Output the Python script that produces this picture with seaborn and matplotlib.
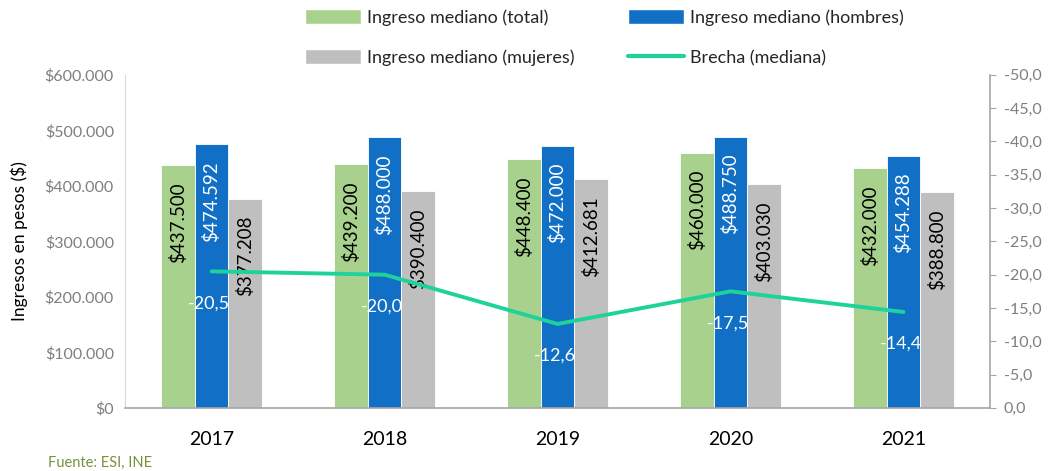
import numpy as np
import pandas as pd
import matplotlib
matplotlib.use('Agg')
import matplotlib.pyplot as plt
import seaborn as sns
from matplotlib.patches import Patch
from matplotlib.lines import Line2D

years = ['2017', '2018', '2019', '2020', '2021']
series = ['Ingreso mediano (total)', 'Ingreso mediano (hombres)', 'Ingreso mediano (mujeres)']
total = [437500, 439200, 448400, 460000, 432000]
hombres = [474592, 488000, 472000, 488750, 454288]
mujeres = [377208, 390400, 412681, 403030, 388800]
brecha = [-20.5, -20.0, -12.6, -17.5, -14.4]
brecha_name = 'Brecha (mediana)'
colors = ['#a9d18e', '#1170c6', '#bfbfbf']
line_color = '#1ed39b'
label_colors = ['black', 'white', 'black']

sns.set_style('white')
plt.rcParams['font.family'] = ['Lato', 'DejaVu Sans']

df = pd.DataFrame({
    'year': years * 3,
    'serie': [series[0]] * 5 + [series[1]] * 5 + [series[2]] * 5,
    'valor': total + hombres + mujeres,
})

fig = plt.figure(figsize=(10.51, 4.71), dpi=100)
ax = fig.add_axes([0.119, 0.134, 0.823, 0.707])

sns.barplot(data=df, x='year', y='valor', hue='serie', palette=colors, saturation=1,
            width=0.58, gap=0, edgecolor='white', linewidth=0.6, ax=ax, legend=False)

def fmt_money(v):
    return '$' + f'{v:,.0f}'.replace(',', '.')

for cont, col in zip(ax.containers, label_colors):
    for p in cont.patches:
        ax.annotate(fmt_money(p.get_height()), (p.get_x() + p.get_width() / 2, p.get_height()),
                    xytext=(0, -17), textcoords='offset pixels', rotation=90,
                    ha='center', va='top', fontsize=13.5, color=col)

ax.set_ylim(0, 600000)
ax.set_yticks(np.arange(0, 600001, 100000))
ax.set_yticklabels([fmt_money(v) for v in range(0, 600001, 100000)], color='#7f7f7f', fontsize=11.5)
ax.set_xlim(-0.5, 4.5)
ax.set_xlabel('')
ax.set_ylabel('Ingresos en pesos ($)', fontsize=12.5, color='black', labelpad=12)
ax.tick_params(axis='x', labelsize=14, length=0, pad=17, colors='black')
ax.tick_params(axis='y', length=0, pad=8)
for s in ['top', 'right']:
    ax.spines[s].set_visible(False)
ax.spines['left'].set_color('#d9d9d9')
ax.spines['bottom'].set_color('#a6a6a6')
ax.spines['bottom'].set_linewidth(1.2)

ax2 = ax.twinx()
sns.lineplot(x=np.arange(len(years)), y=brecha, color=line_color, linewidth=2.8, ax=ax2)
ax2.set_ylim(0, -50)
ax2.set_yticks(np.arange(0, -51, -5))
ax2.set_yticklabels([f'{v:.1f}'.replace('.', ',') for v in np.arange(0, -51, -5)],
                    color='#7f7f7f', fontsize=11.5)
ax2.tick_params(axis='y', length=4, color='#a6a6a6', direction='out', pad=6)
for s in ['top', 'left', 'bottom']:
    ax2.spines[s].set_visible(False)
ax2.spines['right'].set_color('#a6a6a6')
ax2.spines['right'].set_linewidth(1.2)

for i, v in enumerate(brecha):
    ax2.annotate(f'{v:.1f}'.replace('.', ','), (i, v), xytext=(-3, -32), textcoords='offset pixels',
                 ha='center', va='center', fontsize=13, color='white')

handles = [Patch(facecolor=colors[0]), Patch(facecolor=colors[2]),
           Patch(facecolor=colors[1]), Line2D([0], [0], color=line_color, linewidth=3)]
labels = [series[0], series[2], series[1], brecha_name]
fig.legend(handles, labels, ncol=2, loc='upper center', bbox_to_anchor=(0.575, 1.015),
           frameon=False, fontsize=13, handlelength=3.1, handleheight=0.9,
           columnspacing=3.0, labelspacing=1.3, handletextpad=0.3)

fig.text(0.046, 0.008, 'Fuente: ESI, INE', color='#76923c', fontsize=10.5)

fig.savefig('out.png', dpi=100)
